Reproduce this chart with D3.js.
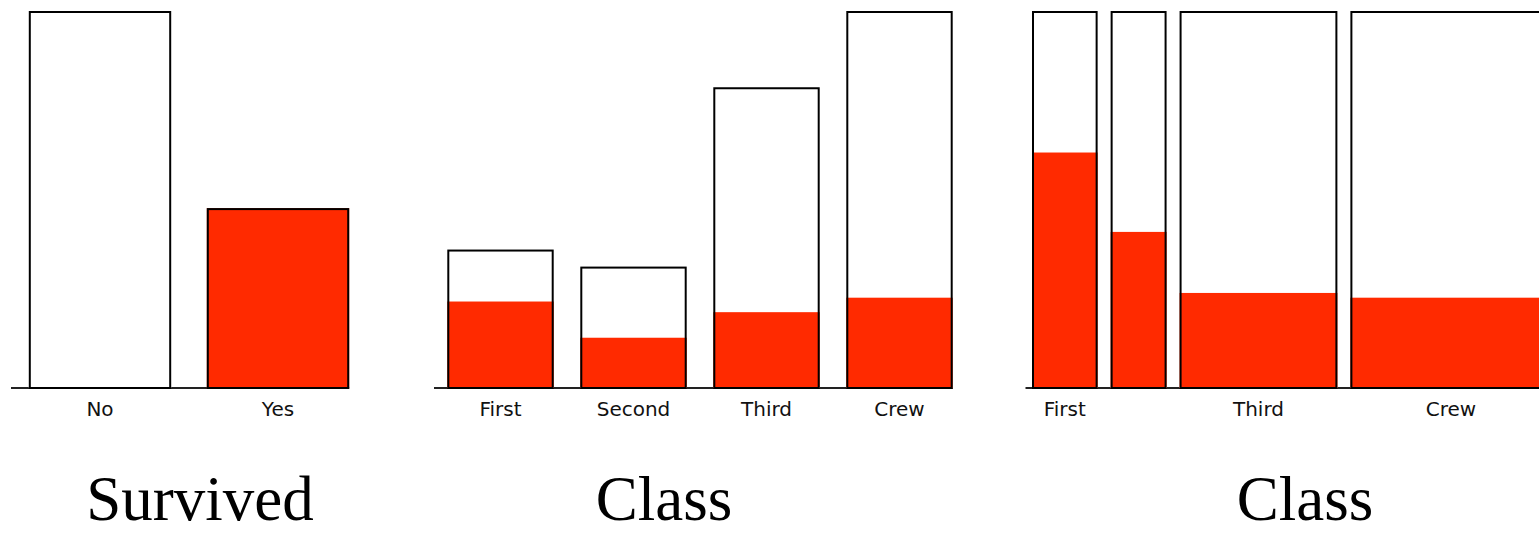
<!DOCTYPE html>
<html>
<head>
<meta charset="utf-8">
<script src="https://cdn.jsdelivr.net/npm/d3@7"></script>
<style>
  body { margin: 0; background: #fff; }
  svg { display: block; }
</style>
</head>
<body>
<div id="chart"></div>
<script>
// data: Titanic passengers and crew
const survivedCats = ["No", "Yes"]
const survivedCounts = [1490, 711]

const classCats = ["First", "Second", "Third", "Crew"]
const classTotals = [325, 285, 706, 885]
const classSurvived = [203, 118, 178, 212]

const titles = ["Survived", "Class", "Class"]

const W = 1539, H = 534
const baseY = 388, topY = 11
const red = "#ff2a00"
const labelFont = "'DejaVu Sans', 'Lucida Grande', sans-serif"
const titleFont = "Palatino, 'Palatino Linotype', 'Liberation Serif', serif"

const svg = d3.select("#chart")
  .append("svg")
    .attr("width", W)
    .attr("height", H)

function axisLine(x0, x1) {
  svg.append("line")
    .attr("x1", x0).attr("x2", x1)
    .attr("y1", baseY).attr("y2", baseY)
    .attr("stroke", "#222")
    .attr("stroke-width", 2)
}

function label(x, text) {
  return svg.append("text")
    .attr("x", x)
    .attr("y", 416)
    .attr("text-anchor", "middle")
    .attr("font-family", labelFont)
    .attr("font-size", 20)
    .attr("fill", "#111")
    .text(text)
}

function title(x, text) {
  svg.append("text")
    .attr("x", x)
    .attr("y", 520)
    .attr("text-anchor", "middle")
    .attr("font-family", titleFont)
    .attr("font-size", 63)
    .attr("fill", "#000")
    .text(text)
}

// draws a bar box: white total, red part, black outline on top
function bar(x, w, yTop, yRed, fillAll) {
  svg.append("rect")
    .attr("x", x).attr("y", yTop)
    .attr("width", w).attr("height", baseY - yTop)
    .attr("fill", fillAll || "#fff")
  if (yRed != null) {
    svg.append("rect")
      .attr("x", x).attr("y", yRed)
      .attr("width", w).attr("height", baseY - yRed)
      .attr("fill", red)
  }
  svg.append("rect")
    .attr("x", x + 1).attr("y", yTop + 1)
    .attr("width", w - 2).attr("height", baseY - yTop - 1)
    .attr("fill", "none")
    .attr("stroke", "#000")
    .attr("stroke-width", 2)
}

// ---- panel 1: Survived
const x1 = d3.scaleBand()
  .domain(survivedCats)
  .range([11, 367])
  .paddingInner(0.2)
  .paddingOuter(0.1)
const y1 = d3.scaleLinear()
  .domain([0, d3.max(survivedCounts)])
  .range([baseY, topY])

axisLine(x1.range()[0], x1(survivedCats[1]) + x1.bandwidth())
survivedCats.forEach((c, i) => {
  bar(x1(c), x1.bandwidth(), y1(survivedCounts[i]), null, i === 1 ? red : "#fff")
  label(x1(c) + x1.bandwidth() / 2, c)
})
title(200, titles[0])

// ---- panel 2: Class, stacked by survival
const x2 = d3.scaleBand()
  .domain(classCats)
  .range([434, 966])
  .paddingInner(0.2)
  .paddingOuter(0.1)
const y2 = d3.scaleLinear()
  .domain([0, d3.max(classTotals)])
  .range([baseY, topY])

axisLine(x2.range()[0], x2(classCats[3]) + x2.bandwidth())
classCats.forEach((c, i) => {
  bar(x2(c), x2.bandwidth(), y2(classTotals[i]), y2(classSurvived[i]))
  label(x2(c) + x2.bandwidth() / 2, c)
})
title(664, titles[1])

// ---- panel 3: spine plot, width by class size
const total = d3.sum(classTotals)
const x3 = d3.scaleLinear()
  .domain([0, total])
  .range([1025.5, 1558])
const y3 = d3.scaleLinear()
  .domain([0, 1])
  .range([baseY, topY])
const gap = 13
const starts = d3.cumsum([0].concat(classTotals))

axisLine(x3(0), W)
classCats.forEach((c, i) => {
  const xa = x3(starts[i]) + gap / 2
  const w = x3(starts[i + 1]) - x3(starts[i]) - gap
  bar(xa, w, y3(1), y3(classSurvived[i] / classTotals[i]))
  const t = label(xa + w / 2, c)
  if (t.node().getComputedTextLength() > w) t.remove()
})
title(1305, titles[2])
</script>
</body>
</html>
